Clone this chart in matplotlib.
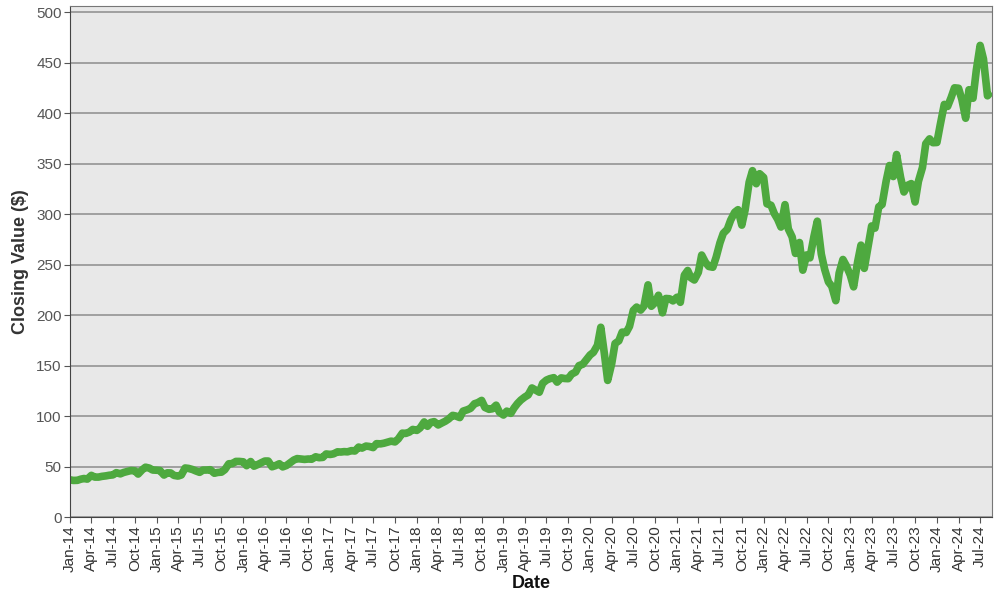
import matplotlib
matplotlib.use('Agg')
import matplotlib.pyplot as plt
import matplotlib.dates as mdates
import pandas as pd

plt.rcParams['font.family'] = ['Liberation Sans', 'DejaVu Sans']

# closing values, roughly the 1st and 15th of each month
close_2014 = [37.0, 36.4, 36.5, 37.6, 38.3, 37.7, 41.4, 39.7, 39.7, 40.4, 40.9, 41.5,
              41.9, 44.1, 42.9, 44.3, 45.4, 46.2, 45.9, 42.7, 46.9, 49.5, 48.6, 46.7]
close_2015 = [46.5, 46.2, 41.7, 43.9, 43.8, 41.4, 40.7, 41.8, 48.7, 48.3, 47.2, 45.8,
              44.4, 46.6, 46.7, 47.0, 43.5, 44.3, 44.6, 47.0, 52.9, 53.0, 55.2, 55.2]
close_2016 = [54.8, 51.0, 55.1, 50.5, 52.0, 53.7, 55.6, 55.6, 49.9, 51.0, 52.9, 49.8,
              51.2, 53.7, 56.6, 58.0, 57.6, 57.2, 57.6, 57.4, 59.8, 58.9, 59.2, 62.6]
close_2017 = [62.1, 62.7, 64.7, 64.5, 64.9, 64.7, 65.9, 65.5, 69.4, 68.4, 70.4, 70.0,
              68.9, 72.8, 72.6, 73.2, 74.3, 75.3, 74.5, 77.5, 83.2, 82.9, 84.3, 86.9]
close_2018 = [85.9, 88.4, 94.3, 90.0, 93.8, 94.6, 91.3, 93.1, 95.0, 97.2, 100.8, 100.1,
              98.6, 105.0, 106.3, 107.7, 112.3, 113.4, 115.6, 108.6, 106.8, 107.3, 110.9, 103.9]
close_2019 = [101.1, 105.0, 102.8, 108.2, 112.5, 115.9, 119.0, 121.0, 127.9, 126.0, 123.7, 132.5,
              135.7, 137.1, 138.1, 133.7, 137.9, 137.3, 137.1, 141.6, 143.7, 150.0, 151.4, 155.5]
close_2020 = [160.6, 163.2, 170.2, 188.0, 162.0, 135.4, 152.1, 171.9, 174.6, 183.2, 182.8, 188.9,
              204.7, 208.0, 205.0, 209.0, 230.0, 208.8, 212.5, 219.7, 202.3, 216.5, 216.2, 214.1]
close_2021 = [217.7, 212.7, 239.6, 244.2, 236.9, 234.8, 242.4, 259.5, 252.2, 248.2, 247.4, 257.4,
              271.6, 281.0, 285.0, 294.0, 301.8, 304.4, 289.1, 304.2, 331.6, 343.0, 330.1, 340.0]
close_2022 = [336.3, 310.2, 308.8, 300.5, 294.9, 287.2, 309.4, 285.3, 277.5, 261.1, 271.9, 244.5,
              259.6, 256.7, 278.0, 293.0, 260.4, 245.4, 232.9, 228.6, 214.3, 241.6, 255.1, 249.0]
close_2023 = [239.6, 228.0, 252.8, 269.3, 246.3, 265.4, 288.3, 286.1, 307.3, 309.5, 332.6, 348.1,
              337.2, 359.0, 336.3, 321.9, 328.7, 330.2, 312.0, 332.4, 346.1, 369.7, 374.5, 370.7]
close_2024 = [370.9, 388.5, 408.6, 406.6, 415.5, 425.0, 424.6, 413.6, 394.9, 423.1, 414.7, 442.6,
              467.0, 453.6, 417.1, 421.0]

closing = (close_2014 + close_2015 + close_2016 + close_2017 + close_2018 + close_2019
           + close_2020 + close_2021 + close_2022 + close_2023 + close_2024)
dates = pd.date_range('2014-01-01', periods=len(closing), freq='SMS')

fig = plt.figure(figsize=(10, 6), dpi=100)
ax = fig.add_axes([0.07, 0.138, 0.922, 0.852])
ax.set_facecolor('#e8e8e8')

ax.plot(dates, closing, color='#4ea93f', lw=5.5, solid_joinstyle='round',
        solid_capstyle='butt')

ax.set_ylim(0, 506)
ax.set_yticks(range(0, 501, 50))
ax.set_xlim(pd.Timestamp('2014-01-01'), pd.Timestamp('2024-08-20'))
ax.xaxis.set_major_locator(mdates.MonthLocator(bymonth=[1, 4, 7, 10]))
ax.xaxis.set_major_formatter(mdates.DateFormatter('%b-%y'))
plt.setp(ax.get_xticklabels(), rotation=90)

ax.grid(axis='y', color='#8c8c8c', lw=1.1)
ax.set_axisbelow(True)
ax.tick_params(colors='#555555', labelsize=11, length=4, pad=2)
ax.tick_params(axis='x', labelcolor='#333333')
for s in ax.spines.values():
    s.set_color('#777777')
ax.spines['left'].set_color('#444444')
ax.spines['bottom'].set_color('#444444')

ax.set_ylabel('Closing Value ($)', fontsize=13, fontweight='bold', color='#333333',
              labelpad=5)
ax.set_xlabel('Date', fontsize=13, fontweight='bold', color='#111111', labelpad=2)

fig.savefig('out.png', dpi=100)
